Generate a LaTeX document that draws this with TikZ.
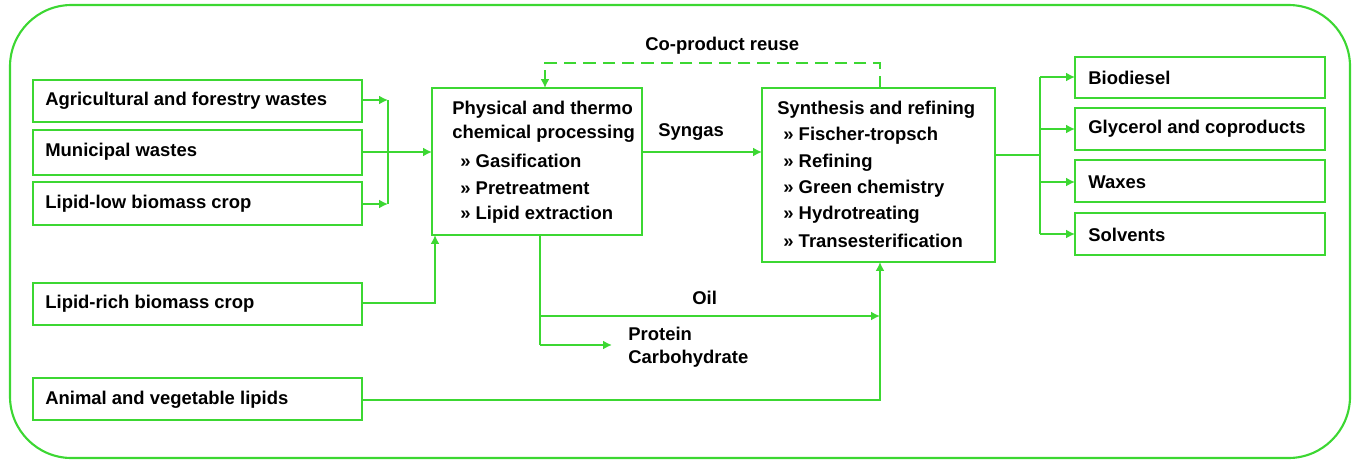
\documentclass[tikz,border=0pt]{standalone}
\usepackage{fontspec}
\setmainfont{Liberation Sans}
\usetikzlibrary{arrows.meta}
\definecolor{gr}{RGB}{60,215,50}
\begin{document}
\begin{tikzpicture}[x=0.02cm,y=-0.02cm,
  box/.style={draw=gr,line width=1.2pt},
  t/.style={font=\fontsize{10.5}{12}\selectfont\bfseries,anchor=west,inner sep=0},
  ln/.style={draw=gr,line width=1.1pt},
  ar/.style={ln,-{Latex[length=5pt,width=5pt]}}]
\useasboundingbox (0,0) rectangle (1358,463);
\draw[box,rounded corners=35] (10,5) rectangle (1350,458);
% left boxes
\draw[box] (33,80) rectangle (362,122); \node[t] (a) at (45,101) {Agricultural and forestry wastes};
\draw[box] (33,130) rectangle (362,175); \node[t] (b) at (45,152) {Municipal wastes};
\draw[box] (33,182) rectangle (362,225); \node[t] (c) at (45,204) {Lipid-low biomass crop};
\draw[box] (33,283) rectangle (362,325); \node[t] (d) at (45,304) {Lipid-rich biomass crop};
\draw[box] (33,378) rectangle (362,420); \node[t] (e) at (45,400) {Animal and vegetable lipids};
% middle
\draw[box] (432,88) rectangle (642,235);
\node[t] at (452,110) {Physical and thermo};
\node[t] at (452,134) {chemical processing};
\node[t] at (460,161) {» Gasification};
\node[t] at (460,188) {» Pretreatment};
\node[t] at (460,215) {» Lipid extraction};
% right
\draw[box] (762,88) rectangle (995,262);
\node[t] at (777,110) {Synthesis and refining};
\node[t] at (783,136) {» Fischer-tropsch};
\node[t] at (783,163) {» Refining};
\node[t] at (783,189) {» Green chemistry};
\node[t] at (783,215) {» Hydrotreating};
\node[t] at (783,241) {» Transesterification};
% outputs
\draw[box] (1075,57) rectangle (1325,98); \node[t] at (1088,78) {Biodiesel};
\draw[box] (1075,108) rectangle (1325,150); \node[t] at (1088,129) {Glycerol and coproducts};
\draw[box] (1075,160) rectangle (1325,202); \node[t] at (1088,182) {Waxes};
\draw[box] (1075,213) rectangle (1325,255); \node[t] at (1088,235) {Solvents};
% connectors
\draw[ar] (362,100) -- (388,100);
\draw[ar] (362,204) -- (388,204);
\draw[ln] (388,100) -- (388,204);
\draw[ar] (362,152) -- (432,152);
\draw[ar] (362,303) -- (435,303) -- (435,235);
\draw[ar] (642,152) -- (762,152);
\node[t] at (658,132) {Syngas};
\draw[ln] (540,235) -- (540,345);
\draw[ar] (540,316) -- (880,316);
\draw[ar] (540,345) -- (612,345);
\node[t] at (692,298) {Oil};
\node[t] at (628,334) {Protein};
\node[t] at (628,359) {Carbohydrate};
\draw[ar] (362,400) -- (880,400) -- (880,262);
\draw[ar,dash pattern=on 7pt off 4pt] (880,88) -- (880,63) -- (545,63) -- (545,88);
\node[t] at (645,46) {Co-product reuse};
\draw[ln] (995,155) -- (1040,155);
\draw[ln] (1040,77) -- (1040,234);
\foreach \yy in {77,129,182,234} \draw[ar] (1040,\yy) -- (1075,\yy);
\end{tikzpicture}
\end{document}
